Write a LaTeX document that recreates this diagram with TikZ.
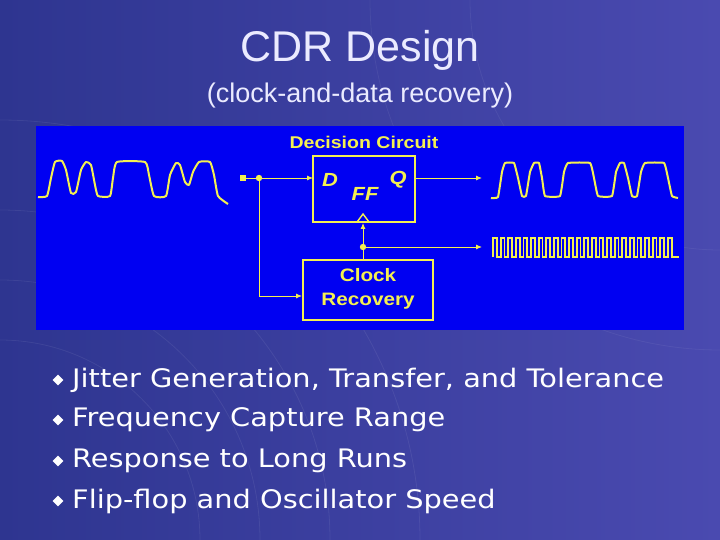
\documentclass[tikz,border=0pt]{standalone}
\usepackage{fontspec}
\setmainfont{Liberation Sans}
\newfontfamily\verd[FakeStretch=1.13]{DejaVu Sans}
\newfontfamily\lblfont[FakeStretch=1.15]{Liberation Sans}
\usetikzlibrary{arrows.meta,shapes.geometric}
\definecolor{bgA}{HTML}{2E3590}
\definecolor{bgB}{HTML}{4A4AB0}
\definecolor{panel}{HTML}{0000F2}
\definecolor{ylw}{HTML}{F4F050}
\tikzset{
  wire/.style={draw=ylw, line width=0.9pt},
  arr/.style={wire, -{Latex[length=6pt,width=5pt]}},
  blk/.style={draw=ylw, line width=1.8pt},
  lbl/.style={text=ylw, font=\lblfont\bfseries\fontsize{17}{19}\selectfont},
  wave/.style={draw=ylw, line width=2pt, line join=round},
  bul/.style={fill=white, diamond, inner sep=0pt},
}
\begin{document}
\begin{tikzpicture}[x=1pt,y=-1pt]
\useasboundingbox (0,0) rectangle (720,540);
\shade[left color=bgA, right color=bgB] (0,0) rectangle (720,540);
\foreach \r in {200,260,330,420}
  \draw[white, opacity=0.07, line width=0.8pt] (0,540) circle[radius=\r];
\foreach \r in {250,350}
  \draw[white, opacity=0.06, line width=0.8pt] (720,0) circle[radius=\r];
\node[text=white!92!blue, font=\fontsize{43}{45}\selectfont] (title) at (360,50) {CDR Design};
\node[text=white!92!blue, font=\fontsize{27}{30}\selectfont] (sub) at (360,96) {(clock-and-data recovery)};
\fill[panel] (36,126) rectangle (684,330);
\node[lbl] (dc) at (364,142) {Decision Circuit};
\draw[blk] (313,156) rectangle (415,222);
\node[lbl, font=\lblfont\bfseries\itshape\fontsize{19}{21}\selectfont] (D) at (330,180) {D};
\node[lbl, font=\lblfont\bfseries\itshape\fontsize{19}{21}\selectfont] (Q) at (398,180) {Q};
\node[lbl, font=\lblfont\bfseries\itshape\fontsize{19}{21}\selectfont] (FF) at (365,194) {FF};
\draw[ylw, line width=1.4pt] (357,222) -- (363,214) -- (369,222);
\draw[blk] (303,260) rectangle (433,320);
\node[lbl, align=center, font=\lblfont\bfseries\fontsize{18}{24}\selectfont] (cr) at (368,289) {Clock\\Recovery};
\fill[ylw] (240,175) rectangle (246,181);
\fill[ylw] (259,178) circle (3.2);
\coordinate (in) at (246,178);
\coordinate (dD) at (313,178);
\draw[wire] (in) -- (259,178);
\draw[arr] (259,178) -- (dD);
\draw[arr] (259,178) -- (259,296) -- (302,296);
\draw[arr] (363,260) -- (363,223);
\fill[ylw] (363,247) circle (3.2);
\draw[arr] (363,247) -- (482,247);
\draw[arr] (415,178) -- (482,178);
% input wave
\draw[wave] plot[smooth, tension=0.3] coordinates {(38,197)(47,196)(51,178)(55,162)(62,161)(66,170)(71,193)(76,192)(81,170)(86,162)(91,165)(95,185)(98,196)(110,196)(113,178)(117,162)(145,162)(149,175)(154,196)(166,196)(170,175)(176,163)(180,165)(185,182)(189,185)(193,172)(199,162)(210,162)(214,175)(218,196)(228,204)};
% output wave
\draw[wave] plot[smooth, tension=0.2] coordinates {(491,198)(498,197)(502,172)(505,163)(514,163)(518,178)(522,196)(526,196)(530,172)(534,163)(539,163)(542,178)(545,196)(560,196)(564,172)(568,163)(590,163)(594,178)(598,196)(612,196)(616,172)(620,163)(624,163)(628,178)(632,196)(637,196)(641,172)(645,163)(664,163)(668,178)(672,196)(678,198)};
% clock wave
\draw[ylw, line width=1.8pt] (493,257)
  \foreach \i in {0,...,23} { -- ++(0,-19) -- ++(3.8,0) -- ++(0,19) -- ++(3.8,0) } -- (679,257);
% bullets
\foreach \y/\t [count=\k] in {380/{Jitter Generation, Transfer, and Tolerance},420/{Frequency Capture Range},461/{Response to Long Runs},501/{Flip-flop and Oscillator Speed}}{
  \node[bul, minimum size=11pt] (b\k) at (58,\y) {};
  \node[anchor=west, text=white, font=\verd\fontsize{25.5}{28}\selectfont, inner sep=0pt] (t\k) at (72,\y) {\t};
}
\end{tikzpicture}
\end{document}
